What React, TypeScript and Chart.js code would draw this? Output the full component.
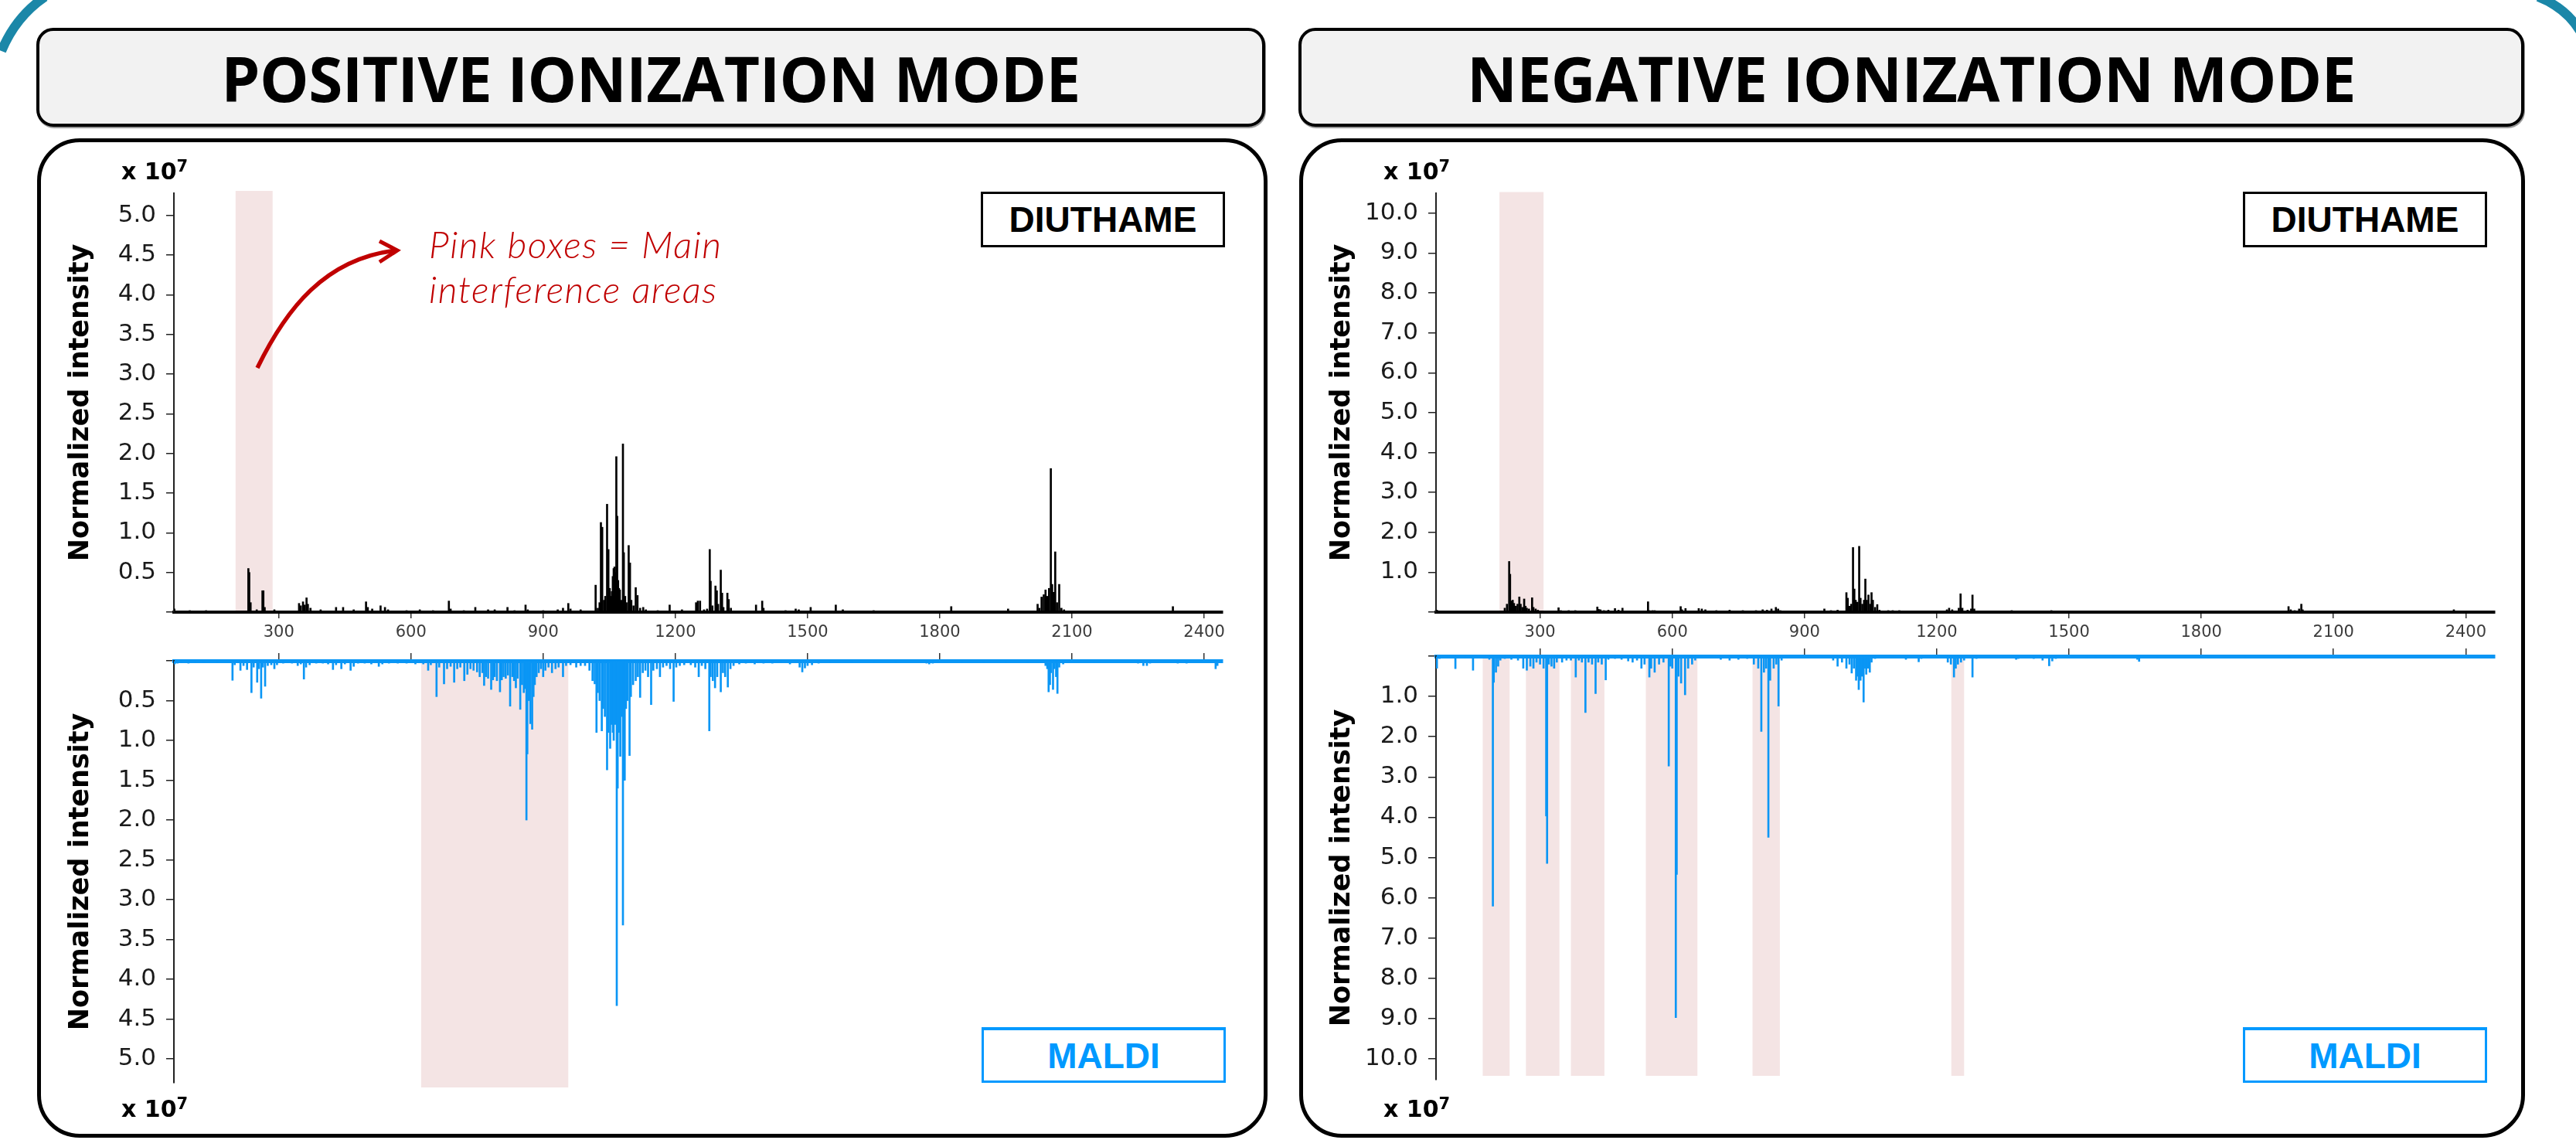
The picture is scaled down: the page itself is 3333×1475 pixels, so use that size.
import React, { useEffect, useRef } from "react";
import { Chart, registerables } from "chart.js";

Chart.register(...registerables);

// ---------- axis tick values ----------
const X_TICKS = [300, 600, 900, 1200, 1500, 1800, 2100, 2400];
const POS_Y_TICKS = [0, 0.5, 1, 1.5, 2, 2.5, 3, 3.5, 4, 4.5, 5];
const NEG_Y_TICKS = [0, 1, 2, 3, 4, 5, 6, 7, 8, 9, 10];

// ---------- m/z ranges ----------
const POS_X_RANGE = [62, 2442];
const NEG_X_RANGE = [64, 2466];

// ---------- interference (pink) areas, m/z ----------
const posTopBands: [number, number][] = [[202, 286]];
const posBottomBands: [number, number][] = [[623, 957]];
const negTopBands: [number, number][] = [[208, 308]];
const negBottomBands: [number, number][] = [
  [170, 231], [268, 344], [370, 446], [540, 657], [782, 844], [1233, 1262],
];

// ---------- spectra: [m/z, normalized intensity (x10^7)] ----------
const posDiuthame: [number, number][] = [
  [63, 0.04], [98, 0.02], [135, 0.02], [231, 0.55], [233, 0.5], [236, 0.12], [250, 0.03],
  [263, 0.27], [265, 0.27], [268, 0.06], [290, 0.03], [346, 0.11], [350, 0.08], [355, 0.13],
  [359, 0.09], [363, 0.18], [366, 0.1], [372, 0.05], [395, 0.03], [430, 0.06], [446, 0.06],
  [470, 0.03], [498, 0.13], [502, 0.06], [512, 0.04], [531, 0.08], [541, 0.06], [548, 0.03],
  [590, 0.02], [620, 0.03], [650, 0.02], [686, 0.14], [690, 0.04], [720, 0.02], [746, 0.06],
  [775, 0.03], [790, 0.03], [819, 0.06], [835, 0.02], [860, 0.09], [865, 0.03], [900, 0.02],
  [933, 0.03], [945, 0.05], [957, 0.11], [962, 0.04], [985, 0.03], [1019, 0.34], [1024, 0.05],
  [1028, 0.12], [1031, 1.13], [1034, 1.07], [1038, 0.15], [1041, 0.2], [1045, 1.36], [1048, 0.79],
  [1051, 0.3], [1053, 0.2], [1056, 0.26], [1058, 0.45], [1060, 0.55], [1062, 0.57], [1064, 0.5],
  [1066, 1.96], [1068, 1.21], [1070, 0.4], [1072, 0.3], [1074, 0.28], [1077, 0.15], [1081, 2.12],
  [1083, 0.75], [1086, 0.2], [1089, 0.12], [1094, 0.84], [1097, 0.62], [1100, 0.15], [1105, 0.08],
  [1110, 0.31], [1114, 0.21], [1120, 0.05], [1127, 0.06], [1133, 0.03], [1160, 0.02], [1187, 0.09],
  [1215, 0.03], [1247, 0.12], [1251, 0.14], [1256, 0.14], [1265, 0.03], [1272, 0.04], [1278, 0.79],
  [1280, 0.39], [1284, 0.08], [1291, 0.33], [1294, 0.27], [1297, 0.1], [1303, 0.53], [1306, 0.24],
  [1309, 0.06], [1318, 0.24], [1321, 0.16], [1326, 0.05], [1383, 0.09], [1397, 0.14], [1400, 0.05],
  [1450, 0.02], [1473, 0.04], [1480, 0.03], [1507, 0.06], [1564, 0.09], [1580, 0.03], [1650, 0.02],
  [1826, 0.07], [1955, 0.04], [2022, 0.1], [2026, 0.05], [2031, 0.19], [2036, 0.22], [2040, 0.28],
  [2044, 0.2], [2048, 0.3], [2052, 1.81], [2055, 0.35], [2058, 0.25], [2062, 0.76], [2066, 0.12],
  [2071, 0.35], [2076, 0.05], [2082, 0.03], [2329, 0.07],
];

const posMaldi: [number, number][] = [
  [64, 0.04], [70, 0.03], [80, 0.02], [95, 0.03], [110, 0.02], [130, 0.02], [160, 0.02],
  [195, 0.245], [200, 0.05], [213, 0.12], [220, 0.06], [228, 0.11], [238, 0.4], [243, 0.08],
  [251, 0.27], [255, 0.1], [260, 0.47], [264, 0.08], [269, 0.32], [275, 0.06], [283, 0.05],
  [290, 0.1], [296, 0.05], [310, 0.03], [330, 0.03], [343, 0.06], [350, 0.04], [357, 0.23],
  [362, 0.08], [370, 0.05], [385, 0.03], [400, 0.03], [412, 0.04], [423, 0.11], [430, 0.05],
  [442, 0.1], [450, 0.04], [463, 0.12], [470, 0.07], [480, 0.03], [495, 0.03], [510, 0.04],
  [527, 0.07], [535, 0.04], [550, 0.03], [570, 0.03], [590, 0.03], [610, 0.04], [628, 0.04],
  [639, 0.12], [645, 0.05], [658, 0.45], [664, 0.08], [675, 0.29], [682, 0.1], [690, 0.07],
  [698, 0.27], [705, 0.1], [712, 0.08], [721, 0.25], [728, 0.17], [735, 0.1], [742, 0.12],
  [750, 0.14], [756, 0.2], [762, 0.15], [766, 0.31], [770, 0.2], [775, 0.22], [782, 0.36],
  [786, 0.24], [790, 0.2], [795, 0.25], [802, 0.39], [806, 0.24], [810, 0.2], [815, 0.22],
  [820, 0.18], [825, 0.57], [830, 0.2], [834, 0.25], [838, 0.34], [842, 0.22], [848, 0.61],
  [852, 0.3], [856, 0.4], [859, 0.35], [862, 2.0], [864, 1.17], [867, 0.5], [871, 0.79],
  [875, 0.86], [878, 0.45], [881, 0.3], [885, 0.2], [890, 0.15], [895, 0.1], [900, 0.2],
  [905, 0.12], [912, 0.08], [920, 0.15], [928, 0.1], [935, 0.08], [945, 0.2], [952, 0.06],
  [962, 0.05], [975, 0.08], [985, 0.06], [995, 0.06], [1005, 0.12], [1012, 0.25], [1017, 0.29],
  [1021, 0.9], [1024, 0.4], [1028, 0.5], [1033, 0.88], [1036, 0.6], [1040, 0.7], [1045, 1.37],
  [1048, 0.9], [1052, 1.1], [1055, 0.8], [1058, 0.9], [1060, 1.0], [1063, 0.8], [1067, 4.33],
  [1069, 1.6], [1072, 0.9], [1075, 1.2], [1078, 0.7], [1081, 3.32], [1083, 1.5], [1085, 1.5],
  [1088, 0.6], [1091, 0.5], [1096, 1.19], [1099, 0.45], [1104, 0.3], [1110, 0.25], [1115, 0.2],
  [1120, 0.46], [1126, 0.15], [1132, 0.12], [1138, 0.2], [1145, 0.55], [1150, 0.12], [1158, 0.1],
  [1165, 0.2], [1172, 0.08], [1180, 0.06], [1188, 0.1], [1196, 0.51], [1202, 0.08], [1210, 0.06],
  [1220, 0.05], [1235, 0.05], [1245, 0.08], [1253, 0.2], [1260, 0.06], [1268, 0.1], [1277, 0.88],
  [1280, 0.2], [1285, 0.25], [1290, 0.34], [1295, 0.2], [1303, 0.39], [1308, 0.15], [1313, 0.2],
  [1319, 0.33], [1325, 0.1], [1332, 0.06], [1345, 0.04], [1360, 0.03], [1380, 0.04], [1400, 0.03],
  [1420, 0.03], [1440, 0.02], [1460, 0.04], [1482, 0.08], [1488, 0.14], [1494, 0.09], [1500, 0.06],
  [1510, 0.05], [1525, 0.03], [1550, 0.02], [1600, 0.02], [1650, 0.02], [1700, 0.02], [1770, 0.03],
  [1776, 0.04], [1784, 0.03], [1850, 0.02], [1900, 0.02], [1950, 0.02], [2000, 0.02], [2040, 0.06],
  [2044, 0.1], [2047, 0.39], [2050, 0.3], [2052, 0.15], [2057, 0.36], [2060, 0.1], [2064, 0.2],
  [2067, 0.41], [2071, 0.08], [2080, 0.04], [2150, 0.02], [2250, 0.03], [2262, 0.06], [2270, 0.06],
  [2277, 0.03], [2340, 0.03], [2360, 0.03], [2426, 0.1], [2430, 0.06],
];

const negDiuthame: [number, number][] = [
  [66, 0.05], [100, 0.02], [140, 0.02], [175, 0.02], [205, 0.03], [220, 0.1], [225, 0.2],
  [230, 1.27], [232, 0.95], [235, 0.28], [238, 0.3], [241, 0.22], [245, 0.15], [249, 0.2],
  [253, 0.38], [256, 0.2], [260, 0.12], [264, 0.33], [267, 0.15], [270, 0.1], [275, 0.08],
  [282, 0.36], [285, 0.12], [290, 0.08], [295, 0.05], [300, 0.03], [320, 0.02], [342, 0.11],
  [347, 0.04], [365, 0.04], [380, 0.04], [400, 0.03], [430, 0.13], [433, 0.07], [437, 0.06],
  [445, 0.04], [455, 0.05], [470, 0.09], [478, 0.05], [487, 0.1], [515, 0.03], [545, 0.26],
  [548, 0.04], [555, 0.04], [560, 0.04], [600, 0.03], [619, 0.14], [622, 0.06], [630, 0.09],
  [660, 0.09], [667, 0.08], [675, 0.06], [700, 0.04], [730, 0.05], [760, 0.04], [790, 0.04],
  [805, 0.06], [815, 0.05], [825, 0.08], [835, 0.12], [840, 0.08], [845, 0.04], [945, 0.08],
  [960, 0.04], [975, 0.05], [995, 0.49], [998, 0.35], [1002, 0.15], [1006, 0.2], [1010, 1.62],
  [1013, 0.58], [1016, 0.3], [1020, 0.25], [1024, 1.65], [1027, 0.35], [1031, 0.2], [1035, 0.3],
  [1038, 0.83], [1041, 0.3], [1045, 0.43], [1049, 0.2], [1052, 0.49], [1055, 0.3], [1060, 0.12],
  [1065, 0.19], [1070, 0.05], [1090, 0.04], [1100, 0.04], [1115, 0.04], [1223, 0.06], [1228, 0.1],
  [1235, 0.06], [1250, 0.1], [1254, 0.46], [1258, 0.1], [1270, 0.05], [1278, 0.08], [1281, 0.43],
  [1285, 0.08], [1370, 0.04], [1460, 0.04], [1998, 0.14], [2003, 0.06], [2012, 0.04], [2022, 0.08],
  [2027, 0.2], [2030, 0.06], [2373, 0.06],
];

const negMaldi: [number, number][] = [
  [66, 0.3], [72, 0.06], [90, 0.04], [108, 0.31], [115, 0.05], [130, 0.05], [148, 0.35],
  [155, 0.05], [175, 0.05], [185, 0.08], [193, 6.21], [195, 0.65], [200, 0.4], [205, 0.25],
  [210, 0.1], [220, 0.06], [235, 0.08], [250, 0.1], [262, 0.3], [270, 0.35], [278, 0.25],
  [285, 0.3], [292, 0.15], [300, 0.2], [308, 0.3], [314, 3.97], [316, 5.15], [320, 0.2],
  [326, 0.25], [332, 0.3], [338, 0.15], [350, 0.15], [360, 0.1], [370, 0.1], [381, 0.52],
  [388, 0.1], [395, 0.15], [403, 1.4], [410, 0.15], [418, 0.2], [426, 0.93], [432, 0.15],
  [440, 0.2], [449, 0.59], [455, 0.08], [470, 0.06], [485, 0.08], [500, 0.12], [510, 0.15],
  [520, 0.1], [530, 0.3], [537, 0.2], [548, 0.52], [552, 0.3], [560, 0.4], [570, 0.2],
  [580, 0.15], [592, 2.73], [596, 0.25], [600, 0.3], [608, 8.98], [610, 5.42], [614, 0.5],
  [620, 0.67], [629, 0.96], [636, 0.3], [645, 0.2], [652, 0.1], [665, 0.05], [690, 0.05],
  [710, 0.08], [730, 0.1], [750, 0.08], [770, 0.06], [785, 0.2], [795, 0.3], [802, 1.87],
  [808, 0.4], [813, 0.3], [818, 4.5], [822, 0.6], [830, 0.3], [836, 0.2], [841, 1.24],
  [848, 0.1], [860, 0.05], [900, 0.04], [940, 0.05], [965, 0.1], [975, 0.25], [985, 0.15],
  [995, 0.3], [1002, 0.2], [1007, 0.42], [1012, 0.3], [1017, 0.6], [1020, 0.5], [1023, 0.83],
  [1027, 0.6], [1030, 0.5], [1034, 1.14], [1037, 0.3], [1040, 0.45], [1044, 0.3], [1048, 0.4],
  [1052, 0.15], [1060, 0.06], [1100, 0.05], [1130, 0.08], [1159, 0.14], [1165, 0.06], [1225, 0.15],
  [1232, 0.2], [1239, 0.52], [1243, 0.3], [1248, 0.2], [1255, 0.15], [1262, 0.1], [1281, 0.52],
  [1290, 0.06], [1350, 0.05], [1380, 0.08], [1385, 0.06], [1420, 0.06], [1440, 0.1], [1455, 0.24],
  [1462, 0.12], [1470, 0.06], [1540, 0.05], [1560, 0.04], [1600, 0.04], [1655, 0.08], [1659, 0.13],
  [1700, 0.03], [1800, 0.03], [1900, 0.04], [2000, 0.03], [2100, 0.03], [2200, 0.02],
];

// ---------- styles ----------
const BLACK = "#000000";
const BLUE = "#0A96F5";
const BLUE_TEXT = "#0099FF";
const PINK = "#F4E4E4";
const RED = "#C00000";
const FONT = "'DejaVu Sans', Verdana, sans-serif";

type Geo = {
  left: number; top: number; width: number; height: number;
  padTop: number; padRight: number; padBottom: number;
  yW: number; xH: number; titlePad: number;
  bandTop: number; bandBottom: number;
};

type SpectrumProps = {
  peaks: [number, number][];
  color: string;
  inverted: boolean;
  xRange: number[];
  yMax: number;
  yTicks: number[];
  bands: [number, number][];
  geo: Geo;
};

function Spectrum({ peaks, color, inverted, xRange, yMax, yTicks, bands, geo }: SpectrumProps) {
  const ref = useRef<HTMLCanvasElement | null>(null);

  useEffect(() => {
    const canvas = ref.current;
    if (!canvas) return;
    const bandPlugin = {
      id: "interferenceBands",
      beforeDraw(chart: any) {
        const { ctx, chartArea, scales } = chart;
        const xs = scales.x;
        ctx.save();
        ctx.fillStyle = PINK;
        for (const [a, b] of bands) {
          const x1 = xs.getPixelForValue(a);
          const x2 = xs.getPixelForValue(b);
          const y1 = chartArea.top + geo.bandTop;
          const y2 = chartArea.bottom + geo.bandBottom;
          ctx.fillRect(x1, y1, x2 - x1, y2 - y1);
        }
        ctx.restore();
      },
    };

    const chart = new Chart(canvas, {
      type: "bar",
      data: {
        datasets: [
          {
            data: peaks.map(([x, y]) => ({ x, y })),
            backgroundColor: color,
            borderWidth: 0,
            barThickness: 2,
          } as any,
        ],
      },
      options: {
        animation: false,
        responsive: false,
        maintainAspectRatio: false,
        devicePixelRatio: 1,
        events: [],
        layout: { padding: { top: geo.padTop, right: geo.padRight, bottom: geo.padBottom, left: 0 } },
        plugins: { legend: { display: false }, tooltip: { enabled: false }, title: { display: false } },
        scales: {
          x: {
            type: "linear",
            position: inverted ? "top" : "bottom",
            min: xRange[0],
            max: xRange[1],
            offset: false,
            afterBuildTicks: (s: any) => {
              s.ticks = X_TICKS.map((v) => ({ value: v }));
            },
            afterFit: (s: any) => {
              s.height = geo.xH;
              s.paddingLeft = 0;
              s.paddingRight = 0;
            },
            ticks: {
              autoSkip: false,
              maxRotation: 0,
              padding: 6,
              color: "#3c3c3c",
              font: { family: FONT, size: 21 },
              callback: (v: any) => (inverted ? "" : String(v)),
            },
            grid: {
              drawOnChartArea: false,
              drawTicks: true,
              tickLength: inverted ? 10 : 8,
              color: "#333333",
              lineWidth: 1.5,
              offset: false,
            },
            border: { display: true, color: inverted ? color : BLACK, width: inverted ? 5 : 4 },
          },
          y: {
            type: "linear",
            min: 0,
            max: yMax,
            reverse: inverted,
            afterBuildTicks: (s: any) => {
              s.ticks = yTicks.map((v) => ({ value: v }));
            },
            afterFit: (s: any) => {
              s.width = geo.yW;
              s.paddingTop = 0;
              s.paddingBottom = 0;
            },
            ticks: {
              autoSkip: false,
              padding: 13,
              color: "#1a1a1a",
              font: { family: FONT, size: 31 },
              callback: (v: any) => (Number(v) === 0 ? "" : Number(v).toFixed(1)),
            },
            grid: { drawOnChartArea: false, drawTicks: true, tickLength: 10, color: "#222222", lineWidth: 1.5 },
            border: { display: true, color: "#222222", width: 2 },
            title: {
              display: true,
              text: "Normalized intensity",
              color: "#000000",
              font: { family: FONT, size: 35, weight: "bold" },
              padding: { top: geo.titlePad, bottom: 0 },
            },
          },
        },
      } as any,
      plugins: [bandPlugin],
    });
    return () => chart.destroy();
  }, []);

  return (
    <canvas
      ref={ref}
      width={geo.width}
      height={geo.height}
      style={{ position: "absolute", left: geo.left, top: geo.top, width: geo.width, height: geo.height }}
    />
  );
}

// ---------- layout (pixel geometry) ----------
const GEO_PT: Geo = { left: 60, top: 225, width: 1537, height: 612, padTop: 25, padRight: 15, padBottom: 0, yW: 165, xH: 45, titlePad: 24, bandTop: -3, bandBottom: -2 };
const GEO_PB: Geo = { left: 60, top: 835, width: 1537, height: 591, padTop: 0, padRight: 15, padBottom: 25, yW: 165, xH: 20, titlePad: 24, bandTop: 3, bandBottom: 6 };
const GEO_NT: Geo = { left: 1696, top: 225, width: 1547, height: 612, padTop: 25, padRight: 15, padBottom: 0, yW: 162, xH: 45, titlePad: 19.5, bandTop: -1.5, bandBottom: -2 };
const GEO_NB: Geo = { left: 1696, top: 829, width: 1547, height: 593, padTop: 0, padRight: 15, padBottom: 25, yW: 162, xH: 20, titlePad: 19.5, bandTop: 3, bandBottom: -5 };

function TitleBox({ left, width, text }: { left: number; width: number; text: string }) {
  return (
    <div
      style={{
        position: "absolute", left, top: 36, width, height: 128, boxSizing: "border-box",
        border: "4.5px solid #000", borderRadius: 22, background: "#F2F2F2",
        boxShadow: "1px 2px 0 #9a9a9a",
        display: "flex", alignItems: "center", justifyContent: "center",
        fontFamily: "'Open Sans', 'Liberation Sans', sans-serif", fontWeight: 700, fontSize: 80,
        color: "#000", letterSpacing: -0.5, whiteSpace: "nowrap",
      }}
    >
      {text}
    </div>
  );
}

function Panel({ left, width }: { left: number; width: number }) {
  return (
    <div
      style={{
        position: "absolute", left, top: 179, width, height: 1293, boxSizing: "border-box",
        border: "5px solid #000", borderRadius: 55, background: "#fff",
      }}
    />
  );
}

function LabelBox({ left, top, text, color, topBorder }: { left: number; top: number; text: string; color: string; topBorder: number }) {
  return (
    <div
      style={{
        position: "absolute", left, top, width: 316, height: 72, boxSizing: "border-box",
        border: `3px solid ${color}`, borderTopWidth: topBorder, background: "#fff",
        display: "flex", alignItems: "center", justifyContent: "center",
        fontFamily: "'Liberation Sans', Arial, sans-serif", fontWeight: 700, fontSize: 46,
        color, whiteSpace: "nowrap",
      }}
    >
      {text}
    </div>
  );
}

function Exponent({ left, baseline }: { left: number; baseline: number }) {
  return (
    <div
      style={{
        position: "absolute", left, top: baseline - 25.5, lineHeight: "30px",
        fontFamily: FONT, fontWeight: 700, fontSize: 30, color: "#000", whiteSpace: "nowrap",
      }}
    >
      x 10<span style={{ fontSize: 21, position: "relative", top: -10 }}>7</span>
    </div>
  );
}

export default function App() {
  return (
    <div style={{ position: "absolute", left: 0, top: 0, width: 3333, height: 1475, background: "#fff", overflow: "hidden" }}>
      <TitleBox left={47} width={1590} text="POSITIVE IONIZATION MODE" />
      <TitleBox left={1680} width={1586} text="NEGATIVE IONIZATION MODE" />
      <Panel left={48} width={1592} />
      <Panel left={1681} width={1586} />

      <Spectrum peaks={posDiuthame} color={BLACK} inverted={false} xRange={POS_X_RANGE} yMax={5.28} yTicks={POS_Y_TICKS} bands={posTopBands} geo={GEO_PT} />
      <Spectrum peaks={posMaldi} color={BLUE} inverted={true} xRange={POS_X_RANGE} yMax={5.3} yTicks={POS_Y_TICKS} bands={posBottomBands} geo={GEO_PB} />
      <Spectrum peaks={negDiuthame} color={BLACK} inverted={false} xRange={NEG_X_RANGE} yMax={10.5} yTicks={NEG_Y_TICKS} bands={negTopBands} geo={GEO_NT} />
      <Spectrum peaks={negMaldi} color={BLUE} inverted={true} xRange={NEG_X_RANGE} yMax={10.52} yTicks={NEG_Y_TICKS} bands={negBottomBands} geo={GEO_NB} />

      <Exponent left={157} baseline={232} />
      <Exponent left={157} baseline={1445} />
      <Exponent left={1790} baseline={232} />
      <Exponent left={1790} baseline={1445} />

      <LabelBox left={1269} top={248} text="DIUTHAME" color="#000" topBorder={3} />
      <LabelBox left={2902} top={248} text="DIUTHAME" color="#000" topBorder={3} />
      <LabelBox left={1270} top={1329} text="MALDI" color={BLUE_TEXT} topBorder={4} />
      <LabelBox left={2902} top={1329} text="MALDI" color={BLUE_TEXT} topBorder={4} />

      <div
        style={{
          position: "absolute", left: 555, top: 287, lineHeight: "58px",
          fontFamily: "Lato, 'Open Sans', sans-serif", fontStyle: "italic", fontWeight: 300,
          fontSize: 48, letterSpacing: 1.5, color: RED, whiteSpace: "nowrap",
        }}
      >
        Pink boxes = Main
        <br />
        interference areas
      </div>

      <svg width={3333} height={1475} style={{ position: "absolute", left: 0, top: 0, pointerEvents: "none" }}>
        <path d="M 333 476 C 370 400, 420 335, 512 324" stroke={RED} strokeWidth={5.5} fill="none" />
        <polyline points="491,312 514,324 491,339" stroke={RED} strokeWidth={5} fill="none" />
        <path d="M 58 -4 Q 20 22 2 66" stroke="#1B87A8" strokeWidth={12} fill="none" />
        <path d="M 3284 -4 Q 3320 10 3338 40" stroke="#1B87A8" strokeWidth={12} fill="none" />
      </svg>
    </div>
  );
}
